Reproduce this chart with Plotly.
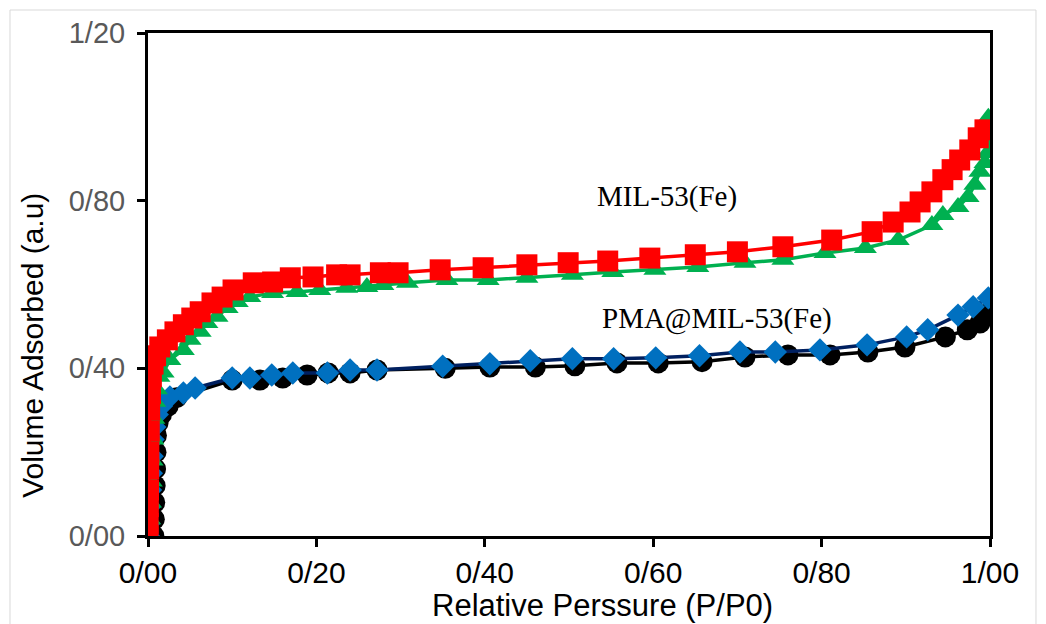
import plotly.graph_objects as go

# MIL-53(Fe) - red squares
red_x = [0.0001, 0.0002, 0.0004, 0.0006, 0.0008, 0.001, 0.0015, 0.002, 0.003, 0.004, 0.006, 0.009,
         0.014, 0.023, 0.032, 0.042, 0.052, 0.062, 0.076, 0.088, 0.101, 0.125, 0.148, 0.169, 0.196,
         0.224, 0.240, 0.276, 0.297, 0.347, 0.398, 0.450, 0.499, 0.546, 0.596, 0.650, 0.700, 0.754,
         0.812, 0.860, 0.885, 0.905, 0.917, 0.931, 0.944, 0.955, 0.964, 0.976, 0.986, 0.994]
red_y = [0.0, 0.03, 0.07, 0.11, 0.16, 0.20, 0.25, 0.30, 0.34, 0.38, 0.41, 0.43,
         0.451, 0.468, 0.487, 0.504, 0.520, 0.535, 0.556, 0.570, 0.587, 0.604, 0.606, 0.616, 0.618,
         0.623, 0.623, 0.628, 0.628, 0.635, 0.640, 0.647, 0.652, 0.656, 0.663, 0.671, 0.678, 0.690,
         0.706, 0.726, 0.749, 0.773, 0.797, 0.821, 0.850, 0.874, 0.897, 0.921, 0.950, 0.969]

# MIL-53(Fe) - green triangles
green_x = [0.001, 0.002, 0.003, 0.004, 0.005, 0.006, 0.007, 0.008, 0.010, 0.013, 0.018,
           0.026, 0.042, 0.050, 0.062, 0.070, 0.082, 0.094, 0.106, 0.121, 0.148, 0.177, 0.204,
           0.236, 0.260, 0.279, 0.308, 0.355, 0.404, 0.450, 0.504, 0.552, 0.602, 0.653, 0.709,
           0.754, 0.804, 0.852, 0.891, 0.931, 0.944, 0.962, 0.974, 0.982, 0.988, 0.994, 0.997,
           0.999, 0.999, 0.999, 0.998]
green_y = [0.0, 0.04, 0.08, 0.13, 0.18, 0.23, 0.28, 0.32, 0.35, 0.38, 0.39,
           0.42, 0.444, 0.468, 0.487, 0.508, 0.523, 0.544, 0.558, 0.570, 0.580, 0.582, 0.587,
           0.592, 0.594, 0.599, 0.604, 0.611, 0.611, 0.616, 0.623, 0.630, 0.635, 0.642, 0.652,
           0.659, 0.675, 0.687, 0.706, 0.742, 0.766, 0.785, 0.809, 0.838, 0.869, 0.890, 0.914,
           0.938, 0.962, 0.986, 0.998]

# PMA@MIL-53(Fe) - black circles
black_x = [0.007, 0.0075, 0.008, 0.0085, 0.009, 0.0095, 0.010, 0.012, 0.016, 0.024, 0.034,
           0.100, 0.133, 0.160, 0.189, 0.214, 0.240, 0.272, 0.353, 0.406, 0.460, 0.507, 0.557,
           0.606, 0.658, 0.709, 0.760, 0.810, 0.855, 0.899, 0.947, 0.973, 0.988, 0.998]
black_y = [0.0, 0.04, 0.08, 0.12, 0.16, 0.20, 0.24, 0.27, 0.29, 0.31, 0.33,
           0.372, 0.372, 0.377, 0.384, 0.389, 0.389, 0.396, 0.400, 0.403, 0.403, 0.406, 0.413,
           0.413, 0.416, 0.427, 0.432, 0.432, 0.439, 0.451, 0.475, 0.492, 0.508, 0.532]

# PMA@MIL-53(Fe) - blue diamonds
blue_x = [0.0005, 0.001, 0.002, 0.003, 0.004, 0.005, 0.006, 0.008, 0.011, 0.016,
          0.026, 0.042, 0.056, 0.100, 0.121, 0.147, 0.172, 0.213, 0.240, 0.272, 0.350, 0.406,
          0.454, 0.504, 0.553, 0.603, 0.655, 0.703, 0.745, 0.798, 0.854, 0.901, 0.926, 0.962,
          0.980, 0.998]
blue_y = [0.0, 0.03, 0.07, 0.11, 0.15, 0.19, 0.23, 0.26, 0.29, 0.31,
          0.332, 0.341, 0.353, 0.377, 0.377, 0.384, 0.389, 0.389, 0.396, 0.396, 0.405, 0.411,
          0.418, 0.423, 0.423, 0.425, 0.430, 0.439, 0.439, 0.444, 0.456, 0.475, 0.492, 0.527,
          0.547, 0.568]

x_tickvals = [0, 0.2, 0.4, 0.6, 0.8, 1.0]
x_ticktext = ["0/00", "0/20", "0/40", "0/60", "0/80", "1/00"]
y_tickvals = [0, 0.4, 0.8, 1.2]
y_ticktext = ["0/00", "0/40", "0/80", "1/20"]

fig = go.Figure()
fig.add_trace(go.Scatter(x=black_x, y=black_y, mode="lines+markers",
                         line=dict(color="#000000", width=3.5),
                         marker=dict(symbol="circle", size=21, color="#000000")))
fig.add_trace(go.Scatter(x=blue_x, y=blue_y, mode="lines+markers",
                         line=dict(color="#002060", width=3.5),
                         marker=dict(symbol="diamond", size=18, color="#0070C0")))
fig.add_trace(go.Scatter(x=green_x, y=green_y, mode="lines+markers",
                         line=dict(color="#00B050", width=3.5),
                         marker=dict(symbol="triangle-up", size=20, color="#00B050")))
fig.add_trace(go.Scatter(x=red_x, y=red_y, mode="lines+markers",
                         line=dict(color="#FF0000", width=3.5),
                         marker=dict(symbol="square", size=21, color="#FF0000")))

serif = "Liberation Serif, Times New Roman, serif"
fig.add_annotation(x=0.616, y=0.809, xref="x", yref="y", text="MIL-53(Fe)", showarrow=False,
                   xanchor="center", yanchor="middle",
                   font=dict(family=serif, size=29, color="#000000"))
fig.add_annotation(x=0.676, y=0.520, xref="x", yref="y", text="PMA@MIL-53(Fe)", showarrow=False,
                   xanchor="center", yanchor="middle",
                   font=dict(family=serif, size=29, color="#000000"))

fig.add_annotation(x=0.540, y=-0.139, xref="paper", yref="paper", text="Relative Perssure (P/P0)",
                   showarrow=False, xanchor="center", yanchor="middle",
                   font=dict(size=31, color="#000000"))
fig.add_annotation(x=-0.1366, y=0.38, xref="paper", yref="paper", text="Volume Adsorbed (a.u)",
                   showarrow=False, textangle=-90, xanchor="center", yanchor="middle",
                   font=dict(size=30, color="#000000"))

fig.add_shape(type="rect", xref="paper", yref="paper", x0=-0.1639, x1=1.0546, y0=-0.19, y1=1.0457,
              line=dict(color="#D9D9D9", width=1), fillcolor="rgba(0,0,0,0)", layer="below")

fig.update_layout(
    width=1046, height=624,
    margin=dict(l=148, r=56, t=33, b=88),
    paper_bgcolor="white", plot_bgcolor="white",
    showlegend=False,
    font=dict(family="Liberation Sans, Arial, sans-serif"),
)
fig.update_xaxes(range=[0, 1], tickvals=x_tickvals, ticktext=x_ticktext,
                 showgrid=False, zeroline=False, showline=True, linecolor="#000000", linewidth=3,
                 mirror=True, ticks="outside", ticklen=8, tickwidth=2.5, tickcolor="#000000",
                 tickfont=dict(size=30, color="#000000"))
fig.update_yaxes(range=[0, 1.2], tickvals=y_tickvals, ticktext=y_ticktext,
                 showgrid=False, zeroline=False, showline=True, linecolor="#000000", linewidth=3,
                 mirror=True, ticks="outside", ticklen=8, tickwidth=2.5, tickcolor="#000000",
                 ticklabelstandoff=6,
                 tickfont=dict(size=29, color="#595959"))

fig.write_html("out.html")
